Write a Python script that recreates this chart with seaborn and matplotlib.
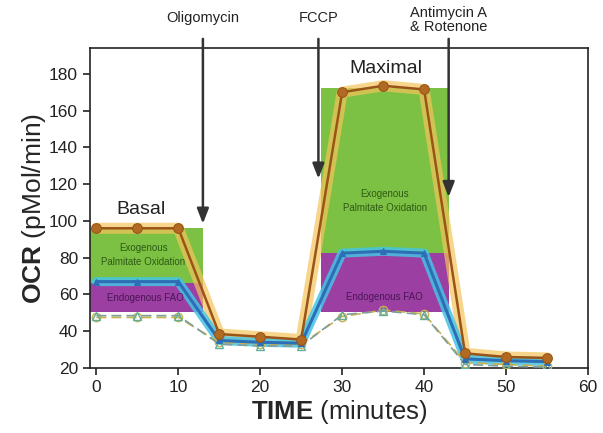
import matplotlib
matplotlib.use("Agg")
import matplotlib.pyplot as plt
import numpy as np
import pandas as pd
import seaborn as sns

# ---------------- data ----------------
time = [0, 5, 10, 15, 20, 25, 30, 35, 40, 45, 50, 55]
palmitate = [96, 96, 96, 38.5, 37, 35.5, 170, 173.5, 171.5, 28, 26, 25.5]
bsa = [67, 67, 67, 35, 34, 33.5, 82.5, 83.5, 82.5, 25, 24, 23.5]
eto_tri = [48.5, 48.5, 48.5, 33, 32, 32, 49, 51, 49, 22, 21, 20.5]
eto_circ = [47.5, 47.5, 47.5, 34, 33, 33, 48, 51.5, 49.5, 23, 22, 21]

basal_x = [-0.8, 13.0]
basal_green = [66, 96]
basal_purple = [50.5, 66]
max_x = [27.4, 43.0]
max_green = [82.5, 172.5]
max_purple = [50.5, 82.5]

inj_times = [13.0, 27.1, 43.0]
inj_tips = [98.5, 123, 113]
inj_labels = ["Oligomycin", "FCCP", "Antimycin A\n& Rotenone"]
inj_label_y = [210.3, 210.3, 209.0]

xticks = [0, 10, 20, 30, 40, 50, 60]
yticks = [20, 40, 60, 80, 100, 120, 140, 160, 180]

# ---------------- style ----------------
sns.set_style("ticks")
plt.rcParams["font.family"] = ["Liberation Sans", "DejaVu Sans"]
plt.rcParams["mathtext.fontset"] = "custom"
plt.rcParams["mathtext.bf"] = "Liberation Sans:bold"
plt.rcParams["mathtext.rm"] = "Liberation Sans"

df = pd.DataFrame({"time": time, "palmitate": palmitate, "bsa": bsa,
                   "eto_tri": eto_tri, "eto_circ": eto_circ})

fig = plt.figure(figsize=(6.03, 4.33), dpi=100)
ax = fig.add_axes([0.149, 0.150, 0.826, 0.739])

GREEN = "#7cc143"
PURPLE = "#9c3fa3"

ax.fill_between(basal_x, basal_green[0], basal_green[1], color=GREEN, lw=0, zorder=1)
ax.fill_between(basal_x, basal_purple[0], basal_purple[1], color=PURPLE, lw=0, zorder=1)
ax.fill_between(max_x, max_green[0], max_green[1], color=GREEN, lw=0, zorder=1)
ax.fill_between(max_x, max_purple[0], max_purple[1], color=PURPLE, lw=0, zorder=1)

# halos
sns.lineplot(data=df, x="time", y="palmitate", ax=ax, color="#f5c45a", lw=8,
             alpha=0.7, zorder=2, legend=False)
sns.lineplot(data=df, x="time", y="bsa", ax=ax, color="#45c4e4", lw=6.5,
             alpha=0.85, zorder=2, legend=False)
# dashed lines
sns.lineplot(data=df, x="time", y="eto_circ", ax=ax, color="#c9b24e", lw=1.2,
             ls=(0, (6, 3)), marker="o", ms=6, mfc="none", mec="#c9b24e",
             mew=1.0, zorder=3, legend=False)
sns.lineplot(data=df, x="time", y="eto_tri", ax=ax, color="#7f9f9a", lw=1.2,
             ls=(0, (6, 3)), marker="^", ms=6, mfc="none", mec="#5fae9c",
             mew=1.0, zorder=3, legend=False)
# main lines
sns.lineplot(data=df, x="time", y="bsa", ax=ax, color="#2d6fb6", lw=2.2,
             marker="^", ms=5, mec="#2d6fb6", zorder=4, legend=False)
sns.lineplot(data=df, x="time", y="palmitate", ax=ax, color="#9a5418", lw=1.8,
             marker="o", ms=7, mfc="#b06a22", mec="#9a5418", zorder=5, legend=False)

# region text
ax.text(5.5, 106, "Basal", fontsize=14, ha="center", va="center", color="#222222")
ax.text(35.3, 183, "Maximal", fontsize=14, ha="center", va="center", color="#222222")
ax.text(5.7, 81.5, "Exogenous\nPalmitate Oxidation", fontsize=7, ha="center",
        va="center", color="#2e5a16", linespacing=1.5, zorder=6)
ax.text(35.2, 111, "Exogenous\nPalmitate Oxidation", fontsize=7, ha="center",
        va="center", color="#2e5a16", linespacing=1.5, zorder=6)
ax.text(6.0, 58, "Endogenous FAO", fontsize=7, ha="center", va="center",
        color="#4a1656", zorder=6)
ax.text(35.2, 58.6, "Endogenous FAO", fontsize=7, ha="center", va="center",
        color="#4a1656", zorder=6)

# injection arrows
for t, tip, lab, ly in zip(inj_times, inj_tips, inj_labels, inj_label_y):
    ax.annotate("", xy=(t, tip), xytext=(t, 199), xycoords="data",
                arrowprops=dict(arrowstyle="-|>,head_width=0.35,head_length=0.9",
                                lw=1.8, color="#333333", shrinkA=0, shrinkB=0),
                annotation_clip=False, zorder=7)
    ax.text(t, ly, lab, fontsize=10.5, ha="center", va="center",
            color="#222222", clip_on=False, linespacing=1.0)

ax.set_xlim(-0.8, 60)
ax.set_ylim(20, 194)
ax.set_xticks(xticks)
ax.set_yticks(yticks)
ax.tick_params(labelsize=12.5, length=5, width=1.2, color="#222222",
               labelcolor="#222222")
for s in ax.spines.values():
    s.set_linewidth(1.2)
    s.set_color("#222222")

ax.set_xlabel(r"$\mathbf{TIME}$ (minutes)", fontsize=18.5, labelpad=2)
ax.set_ylabel(r"$\mathbf{OCR}$ (pMol/min)", fontsize=19, labelpad=1)

fig.savefig("out.png", dpi=100)
